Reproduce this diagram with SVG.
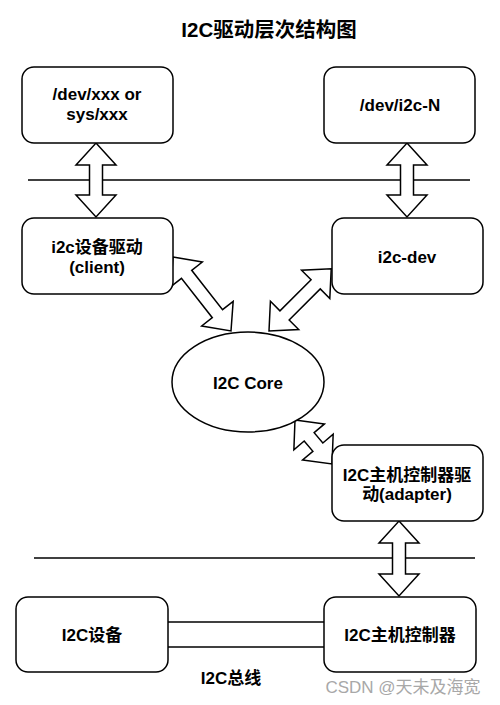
<svg xmlns="http://www.w3.org/2000/svg" width="500" height="705" viewBox="0 0 500 705">
<style>
.box{fill:#fff;stroke:#000;stroke-width:1.5}
.t{font-family:"Liberation Sans","Noto Sans CJK SC",sans-serif;font-size:17px;font-weight:bold;fill:#000;text-anchor:middle}
.arr{fill:#fff;stroke:#000;stroke-width:1.5;stroke-linejoin:miter}
.ln{stroke:#000;stroke-width:1.5;fill:none}
</style>
<rect width="500" height="705" fill="#fff"/>
<text class="t" x="269" y="37" style="font-size:20.5px">I2C驱动层次结构图</text>

<g id="connectors">
<line class="ln" x1="28" y1="180" x2="470" y2="180"/>
<line class="ln" x1="34" y1="558" x2="475" y2="558"/>
<line class="ln" x1="166" y1="622" x2="324" y2="622"/>
<line class="ln" x1="166" y1="647" x2="324" y2="647"/>
<polygon class="arr" transform="translate(96,143) rotate(90)" points="0,0 22,-20 22,-6.5 52,-6.5 52,-20 74,0 52,20 52,6.5 22,6.5 22,20"/>
<polygon class="arr" transform="translate(407,143) rotate(90)" points="0,0 22,-20 22,-6.5 52,-6.5 52,-20 74,0 52,20 52,6.5 22,6.5 22,20"/>
<polygon class="arr" transform="translate(173,257) rotate(51.9)" points="0,0 22,-20 22,-6.5 72,-6.5 72,-20 94,0 72,20 72,6.5 22,6.5 22,20"/>
<polygon class="arr" transform="translate(269,331) rotate(-45)" points="0,0 22,-20 22,-6.5 66,-6.5 66,-20 88,0 66,20 66,6.5 22,6.5 22,20"/>
<polygon class="arr" transform="translate(295,420) rotate(49.9)" points="0,0 22,-20 22,-6.5 35.5,-6.5 35.5,-20 57.5,0 35.5,20 35.5,6.5 22,6.5 22,20"/>
<polygon class="arr" transform="translate(399,521) rotate(90)" points="0,0 22,-20 22,-6.5 53,-6.5 53,-20 75,0 53,20 53,6.5 22,6.5 22,20"/>
</g>

<g id="devxxx">
<rect class="box" x="22" y="67" width="151" height="76" rx="12"/>
<text class="t" x="97" y="100">/dev/xxx or</text>
<text class="t" x="97" y="120">sys/xxx</text>
</g>
<g id="devi2cN">
<rect class="box" x="324" y="67" width="151" height="76" rx="12"/>
<text class="t" x="400" y="111">/dev/i2c-N</text>
</g>
<g id="client">
<rect class="box" x="22" y="218" width="151" height="76" rx="12"/>
<text class="t" x="97" y="253">i2c设备驱动</text>
<text class="t" x="97" y="273">(client)</text>
</g>
<g id="i2cdev">
<rect class="box" x="332" y="218" width="151" height="76" rx="12"/>
<text class="t" x="407" y="263">i2c-dev</text>
</g>
<g id="core">
<ellipse class="box" cx="248" cy="382" rx="76" ry="50"/>
<text class="t" x="248" y="389">I2C Core</text>
</g>
<g id="adapter">
<rect class="box" x="332" y="445" width="151" height="76" rx="12"/>
<text class="t" x="407" y="481">I2C主机控制器驱</text>
<text class="t" x="407" y="500">动(adapter)</text>
</g>
<g id="device">
<rect class="box" x="16" y="597" width="152" height="75" rx="12"/>
<text class="t" x="92" y="641">I2C设备</text>
</g>
<g id="controller">
<rect class="box" x="324" y="597" width="152" height="75" rx="12"/>
<text class="t" x="400" y="641">I2C主机控制器</text>
</g>
<g id="bus-label">
<text class="t" x="231" y="684">I2C总线</text>
</g>
<text x="403" y="693" style="font-family:'Liberation Sans','Noto Sans CJK SC',sans-serif;font-size:17px;fill:#a8a8a8;text-anchor:middle">CSDN @天未及海宽</text>
</svg>
